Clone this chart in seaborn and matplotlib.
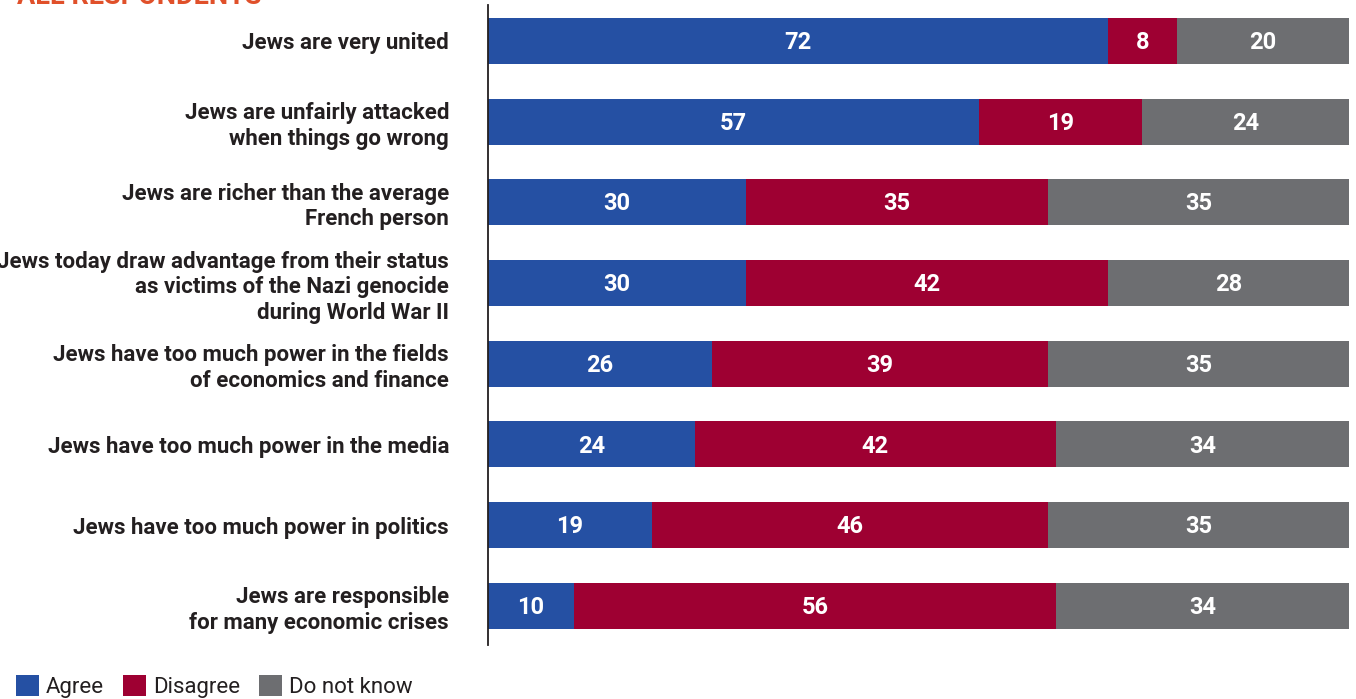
import matplotlib
matplotlib.use("Agg")
import matplotlib.pyplot as plt
from matplotlib import font_manager
from matplotlib.patches import Patch
import numpy as np
import pandas as pd
import seaborn as sns

statements = [
    "Jews are very united",
    "Jews are unfairly attacked\nwhen things go wrong",
    "Jews are richer than the average\nFrench person",
    "Jews today draw advantage from their status\nas victims of the Nazi genocide\nduring World War II",
    "Jews have too much power in the fields\nof economics and finance",
    "Jews have too much power in the media",
    "Jews have too much power in politics",
    "Jews are responsible\nfor many economic crises",
]
agree = [72, 57, 30, 30, 26, 24, 19, 10]
disagree = [8, 19, 35, 42, 39, 42, 46, 56]
dont_know = [20, 24, 35, 28, 35, 34, 35, 34]

series_names = ["Agree", "Disagree", "Do not know"]
colors = ["#2550A3", "#9E0032", "#6D6E71"]
title = "ALL RESPONDENTS"

sns.set_theme(style="white")
available = {f.name for f in font_manager.fontManager.ttflist}
family = [f for f in ["Liberation Sans Narrow", "Roboto", "DejaVu Sans"] if f in available]
plt.rcParams["font.family"] = family

df = pd.DataFrame({
    "statement": statements,
    "Agree": agree,
    "Disagree": disagree,
    "Do not know": dont_know,
})
df["c1"] = df["Agree"]
df["c2"] = df["Agree"] + df["Disagree"]
df["c3"] = df["c2"] + df["Do not know"]

fig = plt.figure(figsize=(13.56, 6.99), dpi=100)
ax = fig.add_axes([488 / 1356, 54 / 699, 861 / 1356, 640 / 699])

# stacked bars: draw cumulative totals from the widest layer down
for col, color in zip(["c3", "c2", "c1"], colors[::-1]):
    sns.barplot(data=df, x=col, y="statement", orient="h", color=color,
                width=0.57, saturation=1, ax=ax, edgecolor="none", linewidth=0)

# value labels centred in each segment
for i, row in df.iterrows():
    starts = [0, row["c1"], row["c2"]]
    vals = [row["Agree"], row["Disagree"], row["Do not know"]]
    for s, v in zip(starts, vals):
        ax.text(s + v / 2, i + 0.02, f"{v}", ha="center", va="center", color="white",
                fontsize=17, fontweight="bold")

ax.set_xlim(0, 100)
ax.set_ylim(7.485, -0.446)
ax.set_xlabel("")
ax.set_ylabel("")
ax.set_xticks([])
ax.tick_params(axis="y", length=0, pad=28, labelsize=16, colors="#231F20")
for lbl in ax.get_yticklabels():
    lbl.set_linespacing(1.2)
    lbl.set_fontweight("semibold")
for side in ["top", "right", "bottom"]:
    ax.spines[side].set_visible(False)
ax.spines["left"].set_color("#231F20")
ax.spines["left"].set_linewidth(1.3)

# section heading, partly above the canvas edge
fig.text(17 / 1356, 1 - 4 / 699, title, ha="left", va="baseline",
         color="#E0502A", fontsize=19.5, fontweight="bold")

handles = [Patch(facecolor=c, edgecolor="none", label=n) for c, n in zip(colors, series_names)]
fig.legend(handles=handles, loc="lower left", bbox_to_anchor=(-4 / 1356, -19 / 699),
           ncol=3, frameon=False, fontsize=16, handlelength=1.05, handleheight=1.05,
           handletextpad=0.3, columnspacing=0.85, labelcolor="#231F20")

fig.savefig("out.png", dpi=100)
